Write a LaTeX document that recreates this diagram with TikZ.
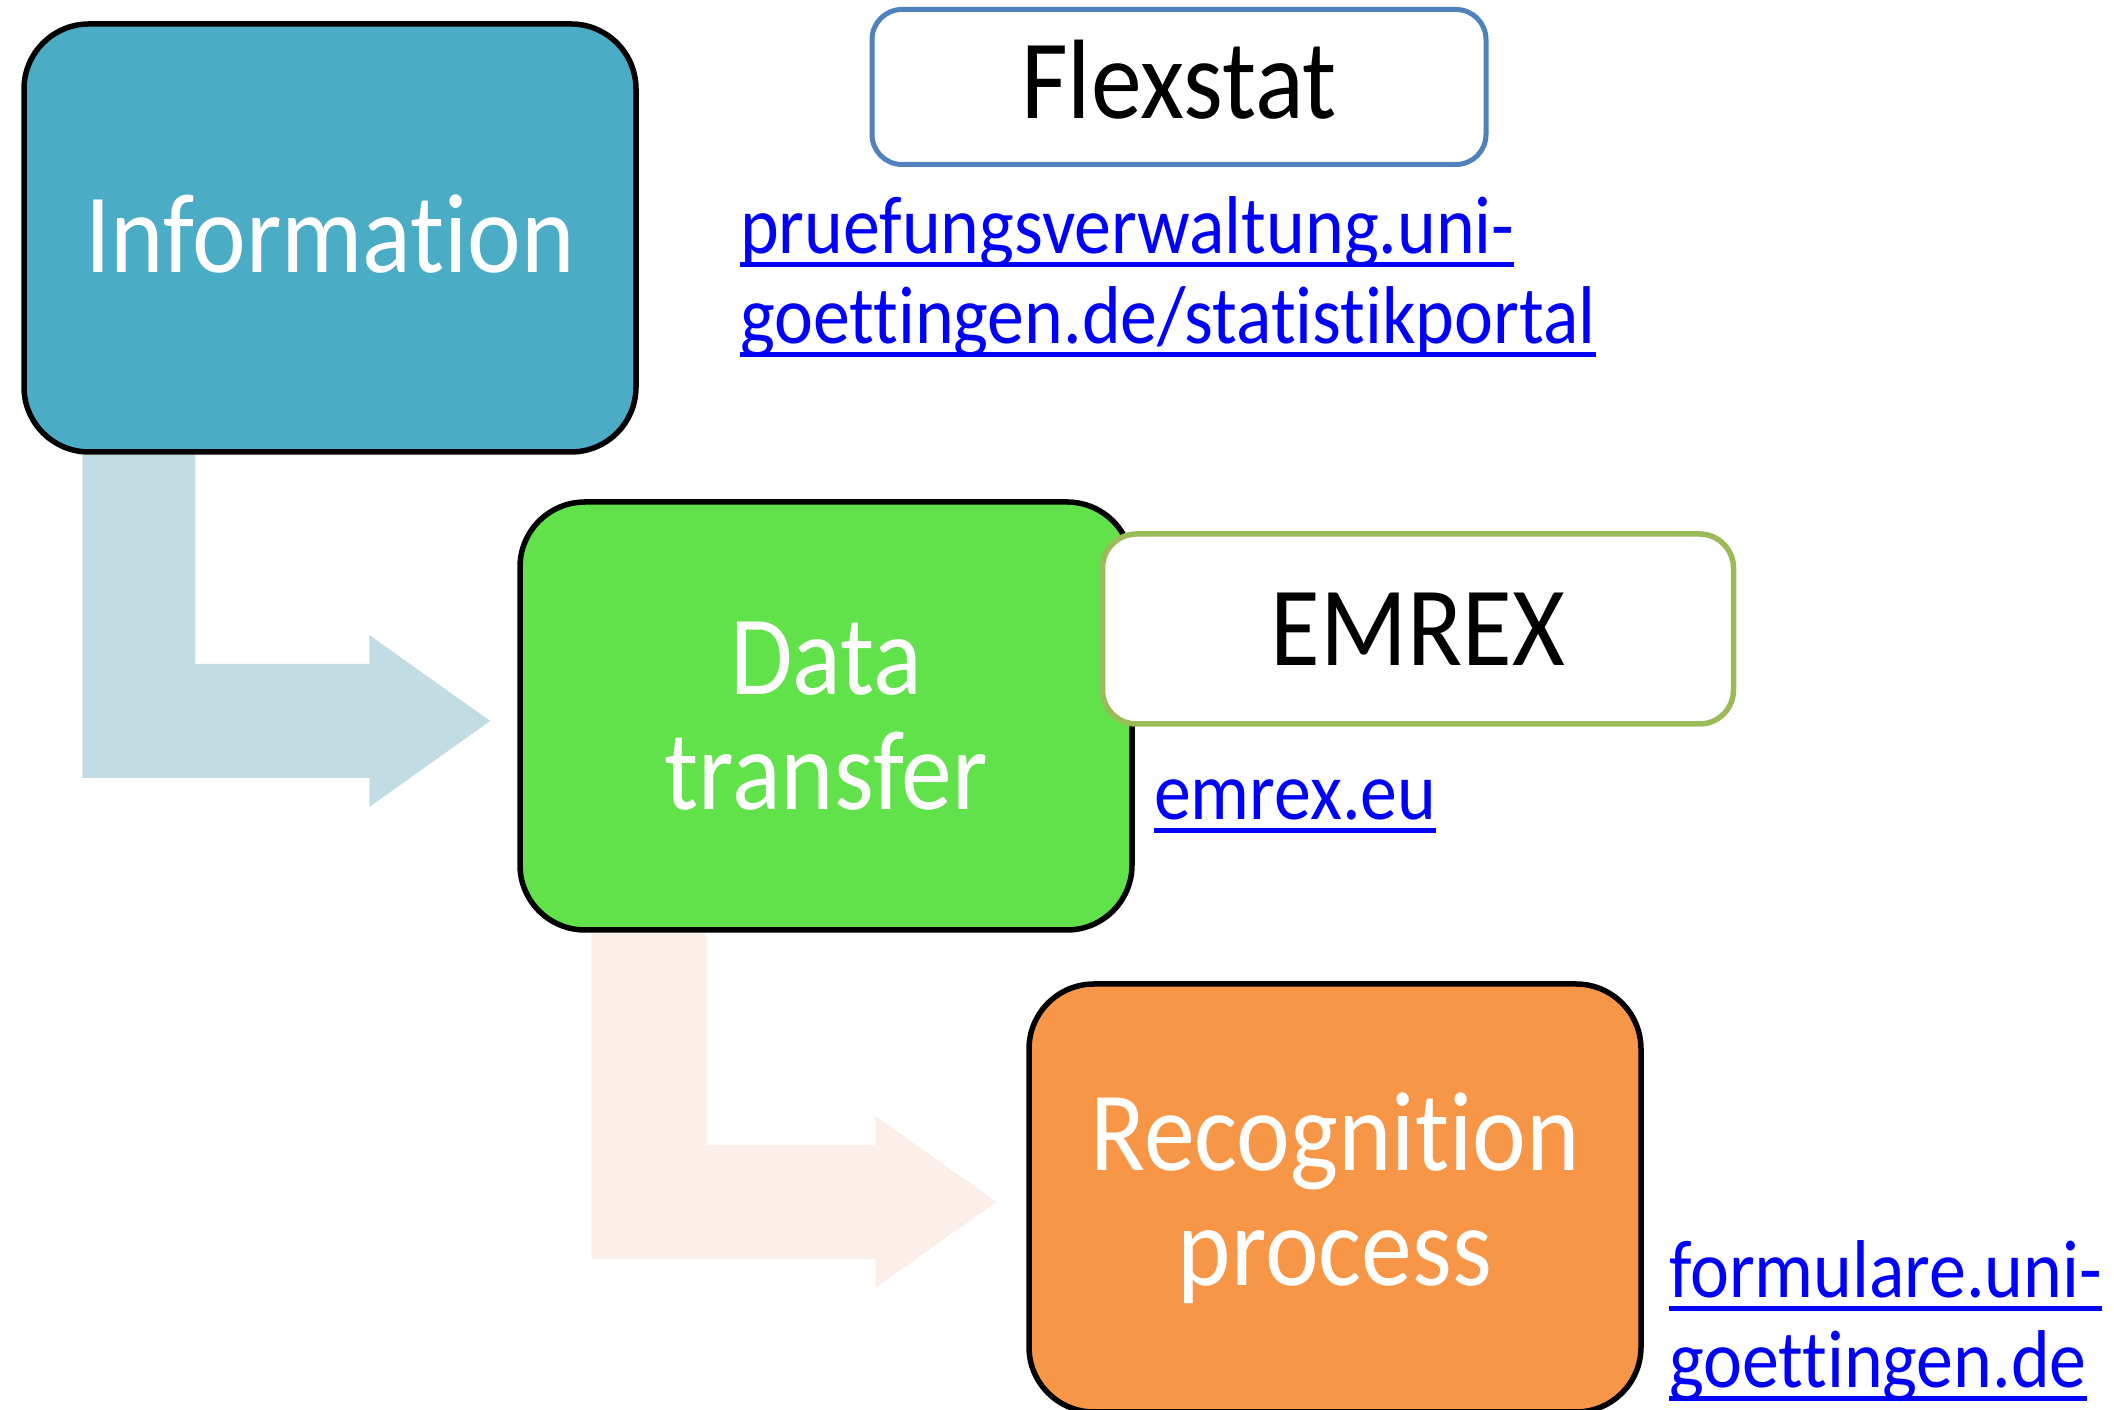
\documentclass[tikz,border=0pt]{standalone}
\usepackage{fontspec}
\setmainfont{Carlito}[FakeStretch=0.9,Ligatures=NoCommon]
\usetikzlibrary{backgrounds}

\newsavebox\urlbox
\newcommand{\urlline}[1]{\sbox\urlbox{#1}\rlap{\rule[-13pt]{\wd\urlbox}{5pt}}\usebox\urlbox}

\definecolor{infoblue}{HTML}{4BACC6}
\definecolor{datagreen}{HTML}{62E24A}
\definecolor{recorange}{HTML}{F79646}
\definecolor{flexblue}{HTML}{4F81BD}
\definecolor{emrexgreen}{HTML}{9BBB59}
\definecolor{linkblue}{HTML}{0000FF}
\definecolor{bendblue}{HTML}{C2DCE4}
\definecolor{bendpeach}{HTML}{FCEEE8}

\tikzset{
  stage/.style={draw=black, line width=5.5pt, rounded corners=65pt,
    minimum width=612pt, minimum height=428pt, text=white, align=center,
    font=\fontsize{113}{115}\selectfont},
  toolbox/.style={draw, fill=white, line width=5pt, rounded corners=30pt,
    text=black, font=\fontsize{113}{115}\selectfont},
  weblink/.style={text=linkblue, align=left, inner sep=0pt,
    font=\fontsize{82}{90}\selectfont}
}

\begin{document}
\begin{tikzpicture}[x=1pt,y=1pt]
	  \useasboundingbox (0,0) rectangle (2114,1410);
	  % the three stages
	  \node at (330,1172) (info) [stage,fill=infoblue,text depth=8pt]{Information};
	  \node at (826,694) (data) [stage,fill=datagreen]{Data\\transfer};
	  \node at (1335,212) (recog) [stage,fill=recorange]{Recognition\\process};
	  % tools
	  \node at (1179,1323) (flex) [toolbox,draw=flexblue,text depth=16pt,minimum width=614pt,minimum height=155pt]{Flexstat};
	  \node at (1418,781) (emrex) [toolbox,draw=emrexgreen,line width=5.5pt,rounded corners=34pt,minimum width=631pt,minimum height=190pt]{EMREX};
	  % links (base = last line)
	  \node at (740,1066) (flexlink) [weblink,anchor=base west]{\urlline{pruefungsverwaltung.uni-}\\\urlline{goettingen.de/statistikportal}};
	  \node at (1154,590) (emrexlink) [weblink,anchor=base west]{\urlline{emrex.eu}};
	  \node at (1669,22) (formlink) [weblink,anchor=base west]{\urlline{formulare.uni-}\\\urlline{goettingen.de}};
	  % bent arrows
	  \coordinate (tipA) at ([shift={(-27,-5)}]data.west);
	  \coordinate (tipB) at ([shift={(-30,-4)}]recog.west);
	  \begin{scope}[on background layer]
	    \fill[bendblue] (tipA) -- ++(-121,86) -- ++(0,-29) -| ([xshift=174pt]info.south west)
	      -- ([xshift=61pt]info.south west) |- ([shift={(-121,-57)}]tipA) -- ++(0,-29) -- cycle;
	    \fill[bendpeach] (tipB) -- ++(-121,86) -- ++(0,-29) -| ([xshift=189pt]data.south west)
	      -- ([xshift=74pt]data.south west) |- ([shift={(-121,-57)}]tipB) -- ++(0,-29) -- cycle;
	  \end{scope}
	\end{tikzpicture}
\end{document}
